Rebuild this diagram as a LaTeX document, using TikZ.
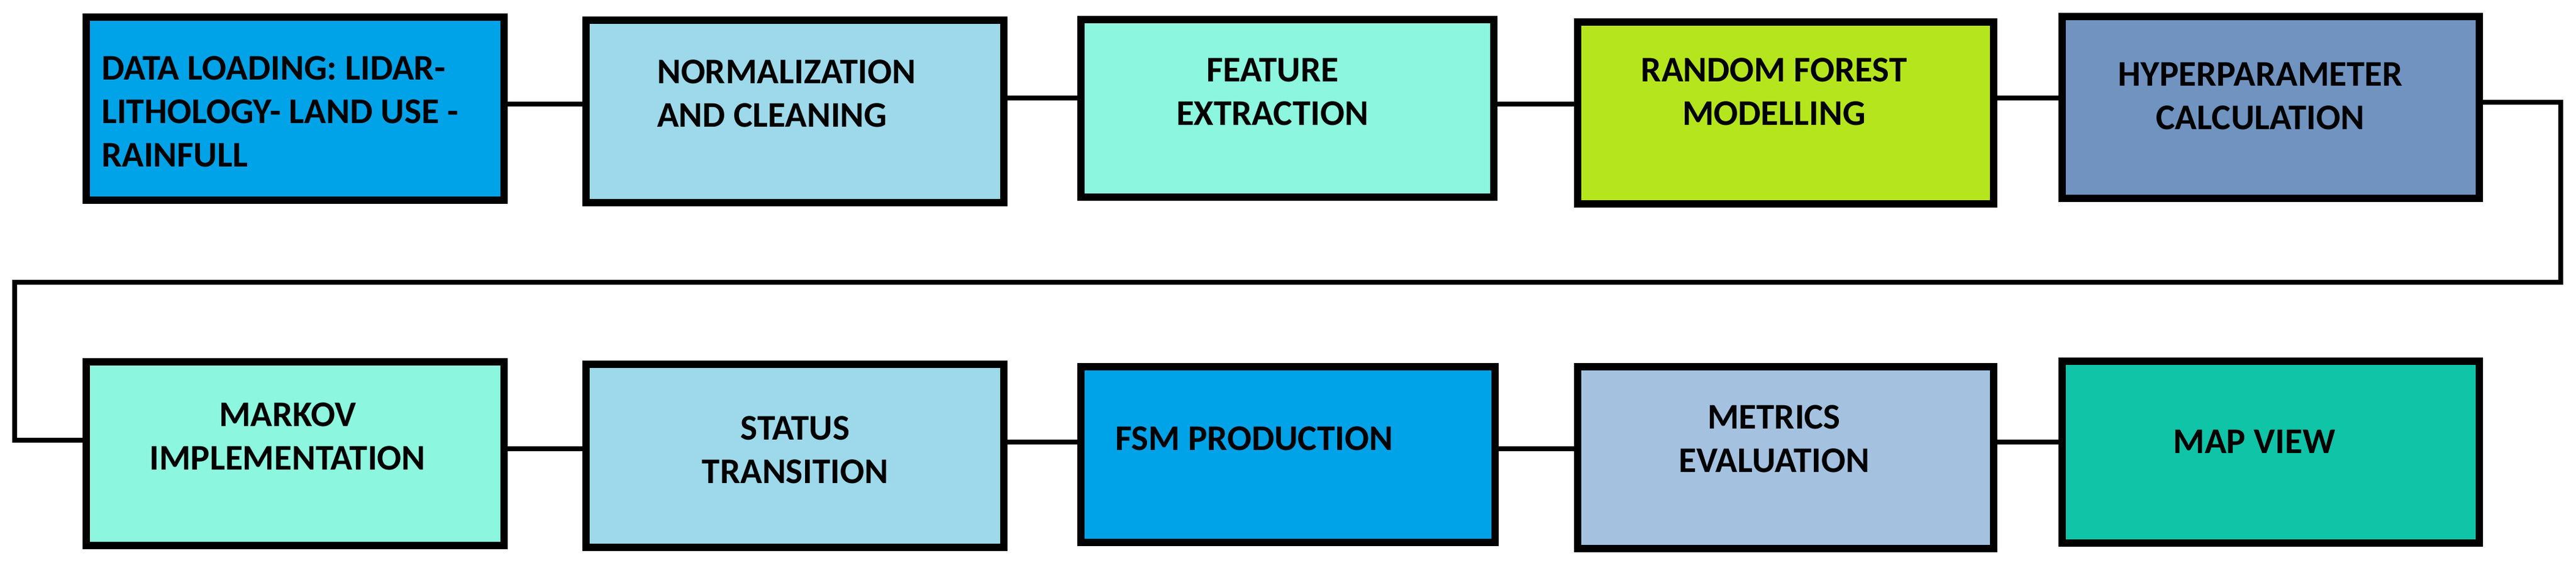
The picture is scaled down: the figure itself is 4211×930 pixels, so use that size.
\documentclass[tikz,border=0pt]{standalone}
\usepackage{fontspec}
\setmainfont{Carlito}
\definecolor{cA}{HTML}{00A2E8}
\definecolor{cB}{HTML}{9DD9EA}
\definecolor{cC}{HTML}{8CF7DE}
\definecolor{cD}{HTML}{B5E61D}
\definecolor{cE}{HTML}{7093C0}
\definecolor{cF}{HTML}{A4C2E0}
\definecolor{cG}{HTML}{10C4A8}
\begin{document}
\begin{tikzpicture}[x=1pt,y=-1pt,
  box/.style={draw=black,line width=12pt},
  lbl/.style={font=\bfseries\fontsize{59}{71}\selectfont,inner sep=0pt,anchor=north},
  conn/.style={line width=8pt}]
\useasboundingbox (0,0) rectangle (4211,930);
% top row
\draw[box,fill=cA] (141,28) rectangle (824,327);
\draw[box,fill=cB] (958,33) rectangle (1641,331);
\draw[box,fill=cC] (1767,32) rectangle (2442,322);
\draw[box,fill=cD] (2579,36) rectangle (3259,333);
\draw[box,fill=cE] (3371,27) rectangle (4053,324);
% bottom row
\draw[box,fill=cC] (141,591) rectangle (824,891);
\draw[box,fill=cB] (958,595) rectangle (1641,894);
\draw[box,fill=cA] (1767,599) rectangle (2444,886);
\draw[box,fill=cF] (2579,599) rectangle (3259,896);
\draw[box,fill=cG] (3371,590) rectangle (4053,887);
% anchors for connectors
\coordinate (b1) at (824,170); \coordinate (b2) at (958,170);
\coordinate (b2r) at (1641,160); \coordinate (b3) at (1767,160);
\coordinate (b3r) at (2442,170); \coordinate (b4) at (2579,170);
\coordinate (b4r) at (3259,160); \coordinate (b5) at (3371,160);
\coordinate (b5r) at (4053,167); \coordinate (t1) at (4186,167);
\coordinate (t2) at (4186,461); \coordinate (t3) at (24,461);
\coordinate (t4) at (24,719); \coordinate (b6) at (141,719);
\coordinate (b6r) at (824,733); \coordinate (b7) at (958,733);
\coordinate (b7r) at (1641,722); \coordinate (b8) at (1767,722);
\coordinate (b8r) at (2444,733); \coordinate (b9) at (2579,733);
\coordinate (b9r) at (3259,722); \coordinate (b10) at (3371,722);
\draw[conn] (b1) -- (b2);
\draw[conn] (b2r) -- (b3);
\draw[conn] (b3r) -- (b4);
\draw[conn] (b4r) -- (b5);
\draw[conn] (b5r) -- (t1) -- (t2) -- (t3) -- (t4) -- (b6);
\draw[conn] (b6r) -- (b7);
\draw[conn] (b7r) -- (b8);
\draw[conn] (b8r) -- (b9);
\draw[conn] (b9r) -- (b10);
% labels
\node[lbl,anchor=north west,align=left] (l1) at (166,92) {DATA LOADING: LIDAR-\\LITHOLOGY- LAND USE -\\RAINFULL};
\node[lbl,anchor=north west,align=left] (l2) at (1074,98) {NORMALIZATION\\AND CLEANING};
\node[lbl,align=center] (l3) at (2080,95) {FEATURE\\EXTRACTION};
\node[lbl,align=center] (l4) at (2900,95) {RANDOM FOREST\\MODELLING};
\node[lbl,align=center] (l5) at (3695,102) {HYPERPARAMETER\\CALCULATION};
\node[lbl,align=center] (l6) at (470,658) {MARKOV\\IMPLEMENTATION};
\node[lbl,align=center] (l7) at (1300,680) {STATUS\\TRANSITION};
\node[lbl,align=center] (l8) at (2050,697) {FSM PRODUCTION};
\node[lbl,align=center] (l9) at (2900,662) {METRICS\\EVALUATION};
\node[lbl,align=center] (l10) at (3685,702) {MAP VIEW};
\end{tikzpicture}
\end{document}
